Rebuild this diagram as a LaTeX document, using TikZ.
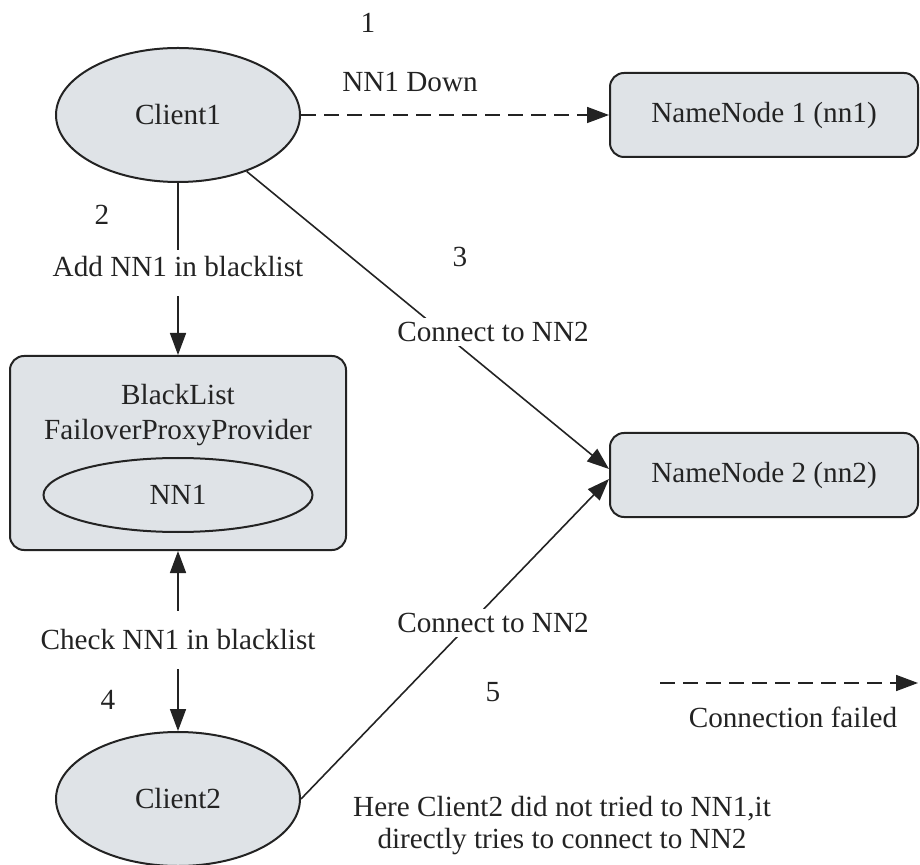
\documentclass[tikz,border=0pt]{standalone}
\usepackage{fontspec}
\setmainfont{Liberation Serif}
\usetikzlibrary{shapes.geometric,arrows.meta}
\definecolor{boxgray}{RGB}{223,227,231}
\definecolor{inkgray}{RGB}{35,35,35}

\begin{document}
\begin{tikzpicture}[x=0.5pt,y=-0.5pt,
		every node/.style={font=\fontsize{14.6}{17.5}\selectfont, text=inkgray},
		client/.style={ellipse, draw=inkgray, line width=1pt, fill=boxgray, minimum width=122pt, minimum height=67pt, inner sep=0pt},
		nnbox/.style={draw=inkgray, line width=1pt, fill=boxgray, rounded corners=7pt, minimum width=154pt, minimum height=42pt},
		conn/.style={draw=inkgray, line width=0.8pt},
		arr/.style={conn, -{Triangle[length=11pt,width=8pt]}},
		failed/.style={arr, dash pattern=on 7.5pt off 4pt},
		cutlbl/.style={fill=white, inner sep=2pt}]
			\useasboundingbox (0,0) rectangle (920,865);
			\node[client] (client1) at (178,115) {Client1};
			\node[nnbox] (nn1) at (764,115) {NameNode 1 (nn1)};
			\node[nnbox] (nn2) at (764,475) {NameNode 2 (nn2)};
			\node[nnbox, minimum width=168pt, minimum height=97pt] (blist) at (178,453) {};
			\node[align=center] (blname) at (178,415) {BlackList\\FailoverProxyProvider};
			\node[client, minimum width=134.5pt, minimum height=37pt] (nn1entry) at (178,495) {NN1};
			\node[client] (client2) at (178,799) {Client2};
			\node (step1) at (368,23) {1};
			\node (downlbl) at (410,82) {NN1 Down};
			\node (step2) at (102,215) {2};
			\node (addlbl) at (178,267) {Add NN1 in blacklist};
			\node (step3) at (460,257) {3};
			\node (chklbl) at (178,640) {Check NN1 in blacklist};
			\node (step4) at (108,700) {4};
			\node (step5) at (493,692) {5};
			\node[align=center, font=\fontsize{14.6}{16}\selectfont] (note) at (562,826) {Here Client2 did not tried to NN1,it\\directly tries to connect to NN2};
			\coordinate (legfrom) at (660,683);
			\coordinate (legto) at (918,683);
			\node (leglbl) at (793,717) {Connection failed};
			\draw[failed] (client1) -- (nn1);
			\draw[conn] (client1) -- (addlbl);
			\draw[arr, shorten <=6pt] (addlbl) -- (blist);
			\draw[arr] (client1) -- ([yshift=3pt]nn2.west);
			\draw[arr, shorten <=6pt] (chklbl) -- (blist);
			\draw[arr, shorten <=6pt] (chklbl) -- (client2);
			\draw[arr] (client2.east) -- ([yshift=-2pt]nn2.west);
			\draw[failed] (legfrom) -- (legto);
			\node[cutlbl] (conn3) at (493,332) {Connect to NN2};
			\node[cutlbl] (conn5) at (493,623) {Connect to NN2};
		\end{tikzpicture}
\end{document}
